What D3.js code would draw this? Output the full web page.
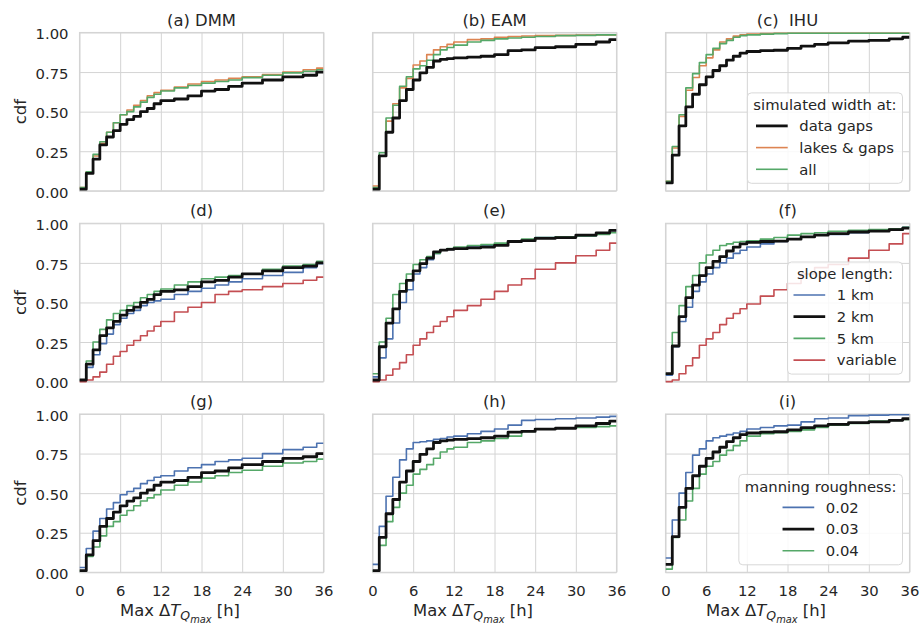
<!DOCTYPE html>
<html><head><meta charset="utf-8">
<script src="https://cdn.jsdelivr.net/npm/d3@7"></script>
<style>
body{margin:0;background:#fff;}
svg text{font-family:"DejaVu Sans",sans-serif;fill:#262626;}
</style></head><body><svg id="c" width="922" height="625"></svg>
<script>
// ---- data (cdf value reached at each hour, step function) ----
const hours = [0,1,2,3,4,5,6,7,8,9,10,11,12,14,16,18,20,22,24,27,30,33,35];
const xTicks = [0,6,12,18,24,30,36];
const yTicks = [0,0.25,0.5,0.75,1];

// reference runs (black): width at data gaps / 2 km / n=0.03
const dmmRef = [0.01,0.11,0.20,0.29,0.34,0.38,0.42,0.45,0.47,0.50,0.52,0.55,0.57,0.58,0.60,0.63,0.64,0.66,0.68,0.70,0.72,0.73,0.75];
const eamRef = [0.01,0.22,0.37,0.46,0.57,0.64,0.70,0.745,0.78,0.82,0.83,0.835,0.84,0.845,0.85,0.86,0.885,0.89,0.905,0.91,0.925,0.94,0.955];
const ihuRef = [0.05,0.225,0.41,0.53,0.61,0.67,0.72,0.76,0.79,0.825,0.85,0.87,0.88,0.885,0.888,0.90,0.914,0.925,0.935,0.945,0.95,0.96,0.97];

// row 1: simulated width
const dmmLakes = [0.02,0.12,0.22,0.30,0.37,0.43,0.48,0.51,0.54,0.57,0.60,0.62,0.635,0.655,0.675,0.69,0.70,0.71,0.72,0.735,0.75,0.765,0.775];
const dmmAll   = [0.02,0.12,0.23,0.31,0.37,0.43,0.48,0.50,0.53,0.56,0.59,0.61,0.63,0.65,0.665,0.68,0.69,0.70,0.715,0.73,0.745,0.755,0.765];
const eamLakes = [0.03,0.22,0.44,0.55,0.65,0.71,0.795,0.82,0.86,0.89,0.91,0.925,0.94,0.955,0.96,0.97,0.975,0.978,0.98,0.982,0.984,0.985,0.985];
const eamAll   = [0.02,0.24,0.46,0.54,0.66,0.72,0.77,0.79,0.825,0.86,0.89,0.905,0.92,0.94,0.95,0.96,0.965,0.97,0.975,0.98,0.982,0.985,0.985];
const ihuLakes = [0.06,0.27,0.47,0.635,0.716,0.79,0.84,0.89,0.94,0.96,0.977,0.985,0.99,0.994,0.995,0.995,0.995,0.995,0.995,0.995,0.995,0.995,0.995];
const ihuAll   = [0.06,0.28,0.48,0.65,0.74,0.81,0.86,0.90,0.93,0.95,0.97,0.98,0.985,0.99,0.993,0.995,0.995,0.995,0.995,0.995,0.995,0.995,0.995];

// row 2: slope length
const dmmSlope1 = [0.01,0.09,0.17,0.24,0.30,0.36,0.40,0.43,0.45,0.48,0.50,0.51,0.52,0.55,0.57,0.59,0.61,0.63,0.65,0.67,0.69,0.72,0.745];
const dmmSlope5 = [0.01,0.13,0.25,0.33,0.39,0.43,0.45,0.48,0.50,0.53,0.55,0.57,0.585,0.61,0.63,0.65,0.66,0.67,0.68,0.71,0.73,0.74,0.76];
const dmmSlopeV = [0.00,0.01,0.03,0.06,0.11,0.16,0.19,0.23,0.26,0.29,0.32,0.35,0.38,0.44,0.47,0.50,0.55,0.57,0.58,0.60,0.62,0.64,0.66];
const eamSlope1 = [0.03,0.15,0.27,0.37,0.50,0.58,0.68,0.72,0.77,0.81,0.83,0.835,0.84,0.85,0.86,0.87,0.88,0.89,0.91,0.915,0.92,0.935,0.955];
const eamSlope5 = [0.05,0.25,0.40,0.55,0.62,0.68,0.74,0.77,0.79,0.81,0.83,0.84,0.85,0.86,0.865,0.875,0.89,0.90,0.91,0.915,0.92,0.93,0.94];
const eamSlopeV = [0.00,0.01,0.04,0.08,0.12,0.17,0.23,0.27,0.31,0.35,0.38,0.41,0.45,0.48,0.52,0.57,0.61,0.65,0.71,0.75,0.795,0.83,0.875];
const ihuSlope1 = [0.04,0.22,0.38,0.47,0.57,0.63,0.68,0.72,0.75,0.78,0.81,0.83,0.85,0.87,0.885,0.90,0.915,0.925,0.93,0.94,0.95,0.96,0.975];
const ihuSlope5 = [0.05,0.31,0.48,0.60,0.67,0.75,0.80,0.83,0.86,0.87,0.88,0.885,0.89,0.90,0.91,0.925,0.935,0.94,0.95,0.955,0.96,0.965,0.975];
const ihuSlopeV = [0.00,0.01,0.05,0.10,0.15,0.23,0.27,0.31,0.36,0.40,0.43,0.46,0.49,0.54,0.58,0.62,0.68,0.72,0.74,0.78,0.83,0.87,0.935];

// row 3: manning roughness
const dmmN02 = [0.03,0.15,0.26,0.34,0.40,0.44,0.49,0.51,0.53,0.56,0.58,0.60,0.61,0.64,0.66,0.68,0.70,0.71,0.72,0.75,0.775,0.79,0.815];
const dmmN04 = [0.01,0.10,0.16,0.23,0.29,0.32,0.36,0.39,0.42,0.45,0.47,0.49,0.52,0.55,0.57,0.595,0.61,0.63,0.645,0.67,0.69,0.70,0.715];
const eamN02 = [0.05,0.29,0.48,0.60,0.71,0.78,0.82,0.825,0.83,0.84,0.845,0.855,0.86,0.875,0.89,0.905,0.93,0.96,0.965,0.97,0.975,0.98,0.985];
const eamN04 = [0.01,0.17,0.32,0.41,0.50,0.55,0.62,0.65,0.68,0.72,0.76,0.78,0.79,0.82,0.83,0.845,0.86,0.89,0.905,0.91,0.915,0.92,0.925];
const ihuN02 = [0.09,0.33,0.50,0.63,0.74,0.78,0.83,0.85,0.86,0.87,0.88,0.89,0.905,0.915,0.925,0.93,0.95,0.97,0.975,0.99,0.993,0.995,0.995];
const ihuN04 = [0.02,0.22,0.33,0.45,0.53,0.62,0.67,0.70,0.74,0.77,0.80,0.83,0.86,0.875,0.882,0.89,0.90,0.915,0.93,0.94,0.955,0.96,0.965];

const titles = ["(a) DMM","(b) EAM","(c)  IHU","(d)","(e)","(f)","(g)","(h)","(i)"];
const legendTitles = ["simulated width at:","slope length:","manning roughness:"];
const legendLabels = [["data gaps","lakes & gaps","all"],["1 km","2 km","5 km","variable"],["0.02","0.03","0.04"]];

const C = {blue:"#4c72b0", orange:"#dd8452", green:"#55a868", red:"#c44e52", black:"#111111"};

// per row: list of series (in legend order), refIndex = position of black line
const rows = [
  {ref:0, series:[[dmmRef,dmmLakes,dmmAll],[eamRef,eamLakes,eamAll],[ihuRef,ihuLakes,ihuAll]], colors:[C.black,C.orange,C.green]},
  {ref:1, series:[[dmmSlope1,dmmRef,dmmSlope5,dmmSlopeV],[eamSlope1,eamRef,eamSlope5,eamSlopeV],[ihuSlope1,ihuRef,ihuSlope5,ihuSlopeV]], colors:[C.blue,C.black,C.green,C.red]},
  {ref:1, series:[[dmmN02,dmmRef,dmmN04],[eamN02,eamRef,eamN04],[ihuN02,ihuRef,ihuN04]], colors:[C.blue,C.black,C.green]}
];

// ---- layout ----
const colX = [79.5, 372.5, 665.5];
const rowY = [32.5, 223.3, 414];
const W = 244, H = 158.3;
const tickFS = 14.8, labFS = 16.4;
const gridCol = "#d4d4d4";

const svg = d3.select("#c");
const x = d3.scaleLinear().domain([0,36]).range([0,W]);
const y = d3.scaleLinear().domain([0,1]).range([H,0]);
const line = d3.line().x(d=>x(d[0])).y(d=>y(d[1])).curve(d3.curveStepAfter);

svg.append("defs").append("clipPath").attr("id","clip")
  .append("rect").attr("x",0).attr("y",-2).attr("width",W).attr("height",H+4);

rows.forEach((row, r) => {
  colX.forEach((x0, c) => {
    const g = svg.append("g").attr("transform",`translate(${x0},${rowY[r]})`);
    const ya = g.append("g").call(d3.axisLeft(y).tickValues(yTicks).tickSize(-W).tickPadding(11)
        .tickFormat(c===0 ? d3.format(".2f") : ""));
    ya.select(".domain").remove();
    ya.selectAll("line").attr("stroke",gridCol).attr("stroke-width",1);
    ya.selectAll("text").attr("font-size",tickFS).attr("font-family","DejaVu Sans").attr("fill","#262626").attr("dy","0.42em");
    const xa = g.append("g").attr("transform",`translate(0,${H})`)
      .call(d3.axisBottom(x).tickValues(xTicks).tickSize(-H).tickPadding(13)
        .tickFormat(r===2 ? d3.format("d") : ""));
    xa.select(".domain").remove();
    xa.selectAll("line").attr("stroke",gridCol).attr("stroke-width",1);
    xa.selectAll("text").attr("font-size",tickFS).attr("font-family","DejaVu Sans").attr("fill","#262626");
    g.append("rect").attr("width",W).attr("height",H).attr("fill","none").attr("stroke",gridCol).attr("stroke-width",1.1);

    const lg = g.append("g").attr("clip-path","url(#clip)");
    const ser = row.series[c];
    const order = ser.map((s,i)=>i).filter(i=>i!==row.ref).concat([row.ref]);
    order.forEach(i => {
      const vals = ser[i];
      const pts = hours.map((h,k)=>[h, vals[k]]).concat([[36, vals[vals.length-1]]]);
      lg.append("path").datum(pts).attr("d",line).attr("fill","none")
        .attr("stroke",row.colors[i]).attr("stroke-width", i===row.ref ? 2.8 : 1.6)
        .attr("stroke-linejoin","round");
    });

    g.append("text").attr("x",W/2).attr("y",-7).attr("text-anchor","middle")
      .attr("font-size",labFS).attr("xml:space","preserve").text(titles[r*3+c]);

    if (c===0) {
      g.append("text").attr("transform",`translate(${26-x0},${H/2}) rotate(-90)`)
        .attr("text-anchor","middle").attr("font-size",labFS).text("cdf");
    }
    if (r===2) {
      const t = g.append("text").attr("x",40.5).attr("y",H+44).attr("font-size",labFS);
      t.append("tspan").text("Max Δ");
      t.append("tspan").attr("font-style","italic").text("T");
      t.append("tspan").attr("font-style","italic").attr("font-size",labFS*0.76).attr("dy",4).text("Q");
      t.append("tspan").attr("font-style","italic").attr("font-size",labFS*0.6).attr("dy",2.5).text("max");
      t.append("tspan").attr("dy",-6.5).text(" [h]");
    }

    if (c===2) {
      const labels = legendLabels[r];
      const lgd = g.append("g");
      const box = lgd.append("rect");
      const tt = lgd.append("text").attr("font-size",tickFS).attr("text-anchor","middle").text(legendTitles[r]);
      const titleW = tt.node().getComputedTextLength();
      const itemTexts = labels.map(l => lgd.append("text").attr("font-size",tickFS).text(l));
      const maxItemW = d3.max(itemTexts, t => t.node().getComputedTextLength());
      const handle = 31.7, gap = 11.6, pad = 6;
      const itemW = handle + gap + maxItemW;
      const bw = Math.max(titleW, itemW) + 2*pad;
      const bh = 33 + (labels.length-1)*21.7 + 14;
      const bx = W - 7 - bw, by = H - 7.5 - bh;
      box.attr("x",bx).attr("y",by).attr("width",bw).attr("height",bh).attr("rx",4)
        .attr("fill","#ffffff").attr("fill-opacity",0.85).attr("stroke","#d8d8d8").attr("stroke-width",1);
      tt.attr("x",bx+bw/2).attr("y",by+17.5);
      const ix = bx + (bw - itemW)/2;
      labels.forEach((l,i) => {
        const ly = by + 33 + i*21.7;
        lgd.append("line").attr("x1",ix).attr("x2",ix+handle).attr("y1",ly).attr("y2",ly)
          .attr("stroke",row.colors[i]).attr("stroke-width", i===row.ref ? 2.8 : 1.6);
        itemTexts[i].attr("x",ix+handle+gap).attr("y",ly+5.2);
      });
    }
  });
});
</script></body></html>
